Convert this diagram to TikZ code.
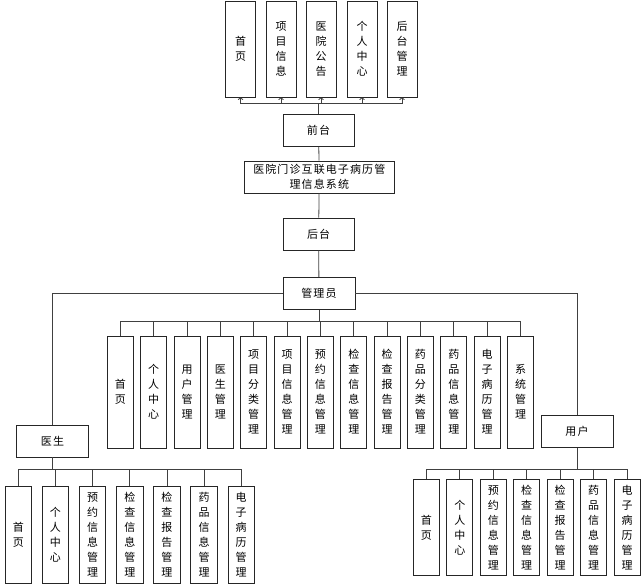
\documentclass[tikz,border=0pt]{standalone}
\usepackage{fontspec}
\setmainfont[LetterSpace=10]{Noto Sans CJK SC}
\XeTeXlinebreaklocale "zh"
\XeTeXlinebreakskip=0pt plus 1pt
\usetikzlibrary{arrows.meta}

\begin{document}
\begin{tikzpicture}[x=1pt, y=-1pt,
	nodes={font=\fontsize{11pt}{15pt}\selectfont},
	box/.style={draw=black!85, line width=0.9pt, fill=white, inner sep=0pt,
		minimum width=71pt, minimum height=32pt, align=center},
	vbox/.style={draw=black!85, line width=0.9pt, fill=white, inner sep=0pt,
		minimum width=26pt, text width=13pt, align=center},
	link/.style={draw=black!75, line width=0.8pt}]

\useasboundingbox (0,0) rectangle (643,585);

% front part
\foreach \i/\x/\xtext in {
	1/240.5/首页,
	2/281/项目信息,
	3/321/医院公告,
	4/362/个人中心,
	5/402/后台管理
}
\node[vbox, minimum width=30pt, minimum height=96pt] (t\i) at (\x,49) {\xtext};

\node[box] (qt) at (318.5,130.5) {前台};
\node[box, minimum width=150pt] (sys) at (319.3,177) {医院门诊互联电子病历管\\理信息系统};
\node[box] (ht) at (318.6,234) {后台};
\node[box, minimum width=72pt] (gly) at (319,293.5) {管理员};
\node[box, minimum width=72pt] (ys) at (52.5,441) {医生};
\node[box, minimum width=72pt] (yh) at (577,431.7) {用户};

\coordinate (tb) at (0,103);
\foreach \i in {1,...,5}
\draw[link, -{To[length=2.5pt]}] (qt.north) -- (qt.north |- tb) -| (t\i.south);

\draw[link] (qt) -- (sys);
\draw[link] (sys) -- (ht);
\draw[link] (ht) -- (gly);
\draw[link] (gly.west) -| (ys.north);
\draw[link] (gly.east) -| (yh.north);

% administrator
\foreach \i/\xtext in {
	1/首页,
	2/个人中心,
	3/用户管理,
	4/医生管理,
	5/项目分类管理,
	6/项目信息管理,
	7/预约信息管理,
	8/检查信息管理,
	9/检查报告管理,
	10/药品分类管理,
	11/药品信息管理,
	12/电子病历管理,
	13/系统管理
}
\node[vbox, minimum height=112pt] (a\i) at ({120.3+33.35*(\i-1)},392) {\xtext};

\coordinate (ab) at (0,321.7);
\foreach \i in {1,...,13}
\draw[link] (gly.south) -- (gly.south |- ab) -| (a\i.north);

% doctor
\foreach \i/\xtext in {
	1/首页,
	2/个人中心,
	3/预约信息管理,
	4/检查信息管理,
	5/检查报告管理,
	6/药品信息管理,
	7/电子病历管理
}
\node[vbox, minimum width=26.5pt, minimum height=97pt] (d\i) at ({18.3+37.15*(\i-1)},535) {\xtext};

\coordinate (db) at (0,469);
\foreach \i in {1,...,7}
\draw[link] (ys.south) -- (ys.south |- db) -| (d\i.north);

% user
\foreach \i/\xtext in {
	1/首页,
	2/个人中心,
	3/预约信息管理,
	4/检查信息管理,
	5/检查报告管理,
	6/药品信息管理,
	7/电子病历管理
}
\node[vbox, minimum height=96pt] (u\i) at ({426.3+33.48*(\i-1)},527.5) {\xtext};

\coordinate (ub) at (0,469.3);
\foreach \i in {1,...,7}
\draw[link] (yh.south) -- (yh.south |- ub) -| (u\i.north);
\end{tikzpicture}
\end{document}
